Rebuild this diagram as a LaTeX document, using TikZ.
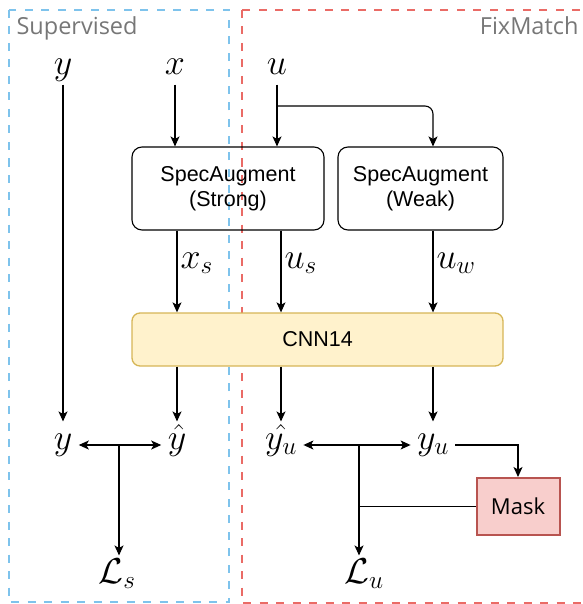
\RequirePackage{fix-cm}
\documentclass[tikz,border=0pt]{standalone}
\usepackage{amsmath, amssymb}
\usepackage{fontspec}
\usepackage{xcolor}
\usepackage{tikz}
\usetikzlibrary{arrows.meta, positioning}

\newfontfamily\boxfont{Liberation Sans}
\newfontfamily\regionfont{Open Sans}

\definecolor{supblue}{HTML}{7EC3EC}
\definecolor{fixred}{HTML}{EA6B66}
\definecolor{regiongrey}{HTML}{777777}
\definecolor{cnnfill}{HTML}{FFF2CC}
\definecolor{cnnline}{HTML}{D6B656}
\definecolor{maskfill}{HTML}{F8CECC}
\definecolor{maskline}{HTML}{B85450}

\begin{document}
\begin{tikzpicture}[x=1pt, y=-1pt, >={Stealth[length=10pt, width=9pt, inset=2.5pt]}, line width=1.1pt,
  var node/.style={anchor=base, inner sep=0pt, inner xsep=6pt, text height=27pt, text depth=9pt, font=\fontsize{36}{40}\selectfont},
  edge label/.style={right, inner sep=3pt, font=\fontsize{36}{40}\selectfont},
  aug node/.style={draw, rounded corners=10pt, align=center, minimum height=83pt, font=\boxfont\fontsize{21.5}{25.5}\selectfont},
  cnn node/.style={draw=cnnline, fill=cnnfill, line width=1.3pt, rounded corners=8pt, minimum width=371pt, minimum height=53pt, font=\boxfont\fontsize{21.5}{25.5}\selectfont},
  mask node/.style={draw=maskline, fill=maskfill, line width=2pt, minimum width=83pt, minimum height=57pt, font=\regionfont\fontsize{22}{26}\selectfont},
  region/.style={dash pattern=on 8pt off 8.5pt, line width=2pt},
  region label/.style={inner sep=0pt, text=regiongrey, font=\regionfont\fontsize{23.5}{27}\selectfont}]

  \useasboundingbox (0,0) rectangle (582,604);
  \clip (0,0) rectangle (582,604);

  % the two halves
  \draw[region, supblue] (9,10) rectangle (229,602);
  \draw[region, fixred] (242,10) rectangle (610,603);
  \node[region label, anchor=base west] (suptitle) at (16,35) {Supervised};
  \node[region label, anchor=base east] (fixtitle) at (579,35) {FixMatch};

  % inputs
  \node[var node] (ytop) at (63,75) {$y$};
  \node[var node] (x) at (175,75) {$x$};
  \node[var node] (u) at (277,75) {$u$};

  % augmentation and model
  \node[aug node, minimum width=192pt] (strong) at (228,188.5) {SpecAugment\\(Strong)};
  \node[aug node, minimum width=165pt] (weak) at (420.5,188.5) {SpecAugment\\(Weak)};
  \node[cnn node] (cnn) at (317.5,339.5) {CNN14};

  % outputs and losses
  \node[var node] (ybot) at (63,449) {$y$};
  \node[var node] (yhat) at (177,449) {$\hat{y}$};
  \node[var node] (yuhat) at (281,449) {$\hat{y_u}$};
  \node[var node] (yu) at (433,449) {$y_u$};
  \node[mask node] (mask) at (518,506.5) {Mask};
  \node[var node] (Ls) at (117,583) {$\mathcal{L}_s$};
  \node[var node] (Lu) at (364,583) {$\mathcal{L}_u$};

  \coordinate (ufork) at (277,106);
  \coordinate (lsjoin) at (119,445);
  \coordinate (lujoin) at (359,445);

  \draw[->] (ytop) -- (ybot);
  \draw[->] (x) -- (x |- strong.north);
  \draw[->] (u) -- (u |- strong.north);
  \draw[->, rounded corners=8pt] (ufork) -| (weak.north -| yu);

  \path[->]
    (yhat |- strong.south) edge node[edge label, pos=0.4] {$x_s$} (yhat |- cnn.north)
    (yuhat |- strong.south) edge node[edge label, pos=0.4] {$u_s$} (yuhat |- cnn.north)
    (yu |- weak.south) edge node[edge label, pos=0.4] {$u_w$} (yu |- cnn.north)
    (cnn.south -| yhat) edge (yhat)
    (cnn.south -| yuhat) edge (yuhat)
    (cnn.south -| yu) edge (yu);

  \draw[<->] (ybot.east |- lsjoin) -- (yhat.west |- lsjoin);
  \draw[->] (lsjoin) -- (Ls.north -| lsjoin);
  \draw[<->] (yuhat.east |- lujoin) -- (yu.west |- lujoin);
  \draw[->] (lujoin) -- (Lu.north -| lujoin);
  \draw[->] (yu.east |- lujoin) -| (mask);
  \draw (mask) -- (mask -| lujoin);
\end{tikzpicture}
\end{document}
